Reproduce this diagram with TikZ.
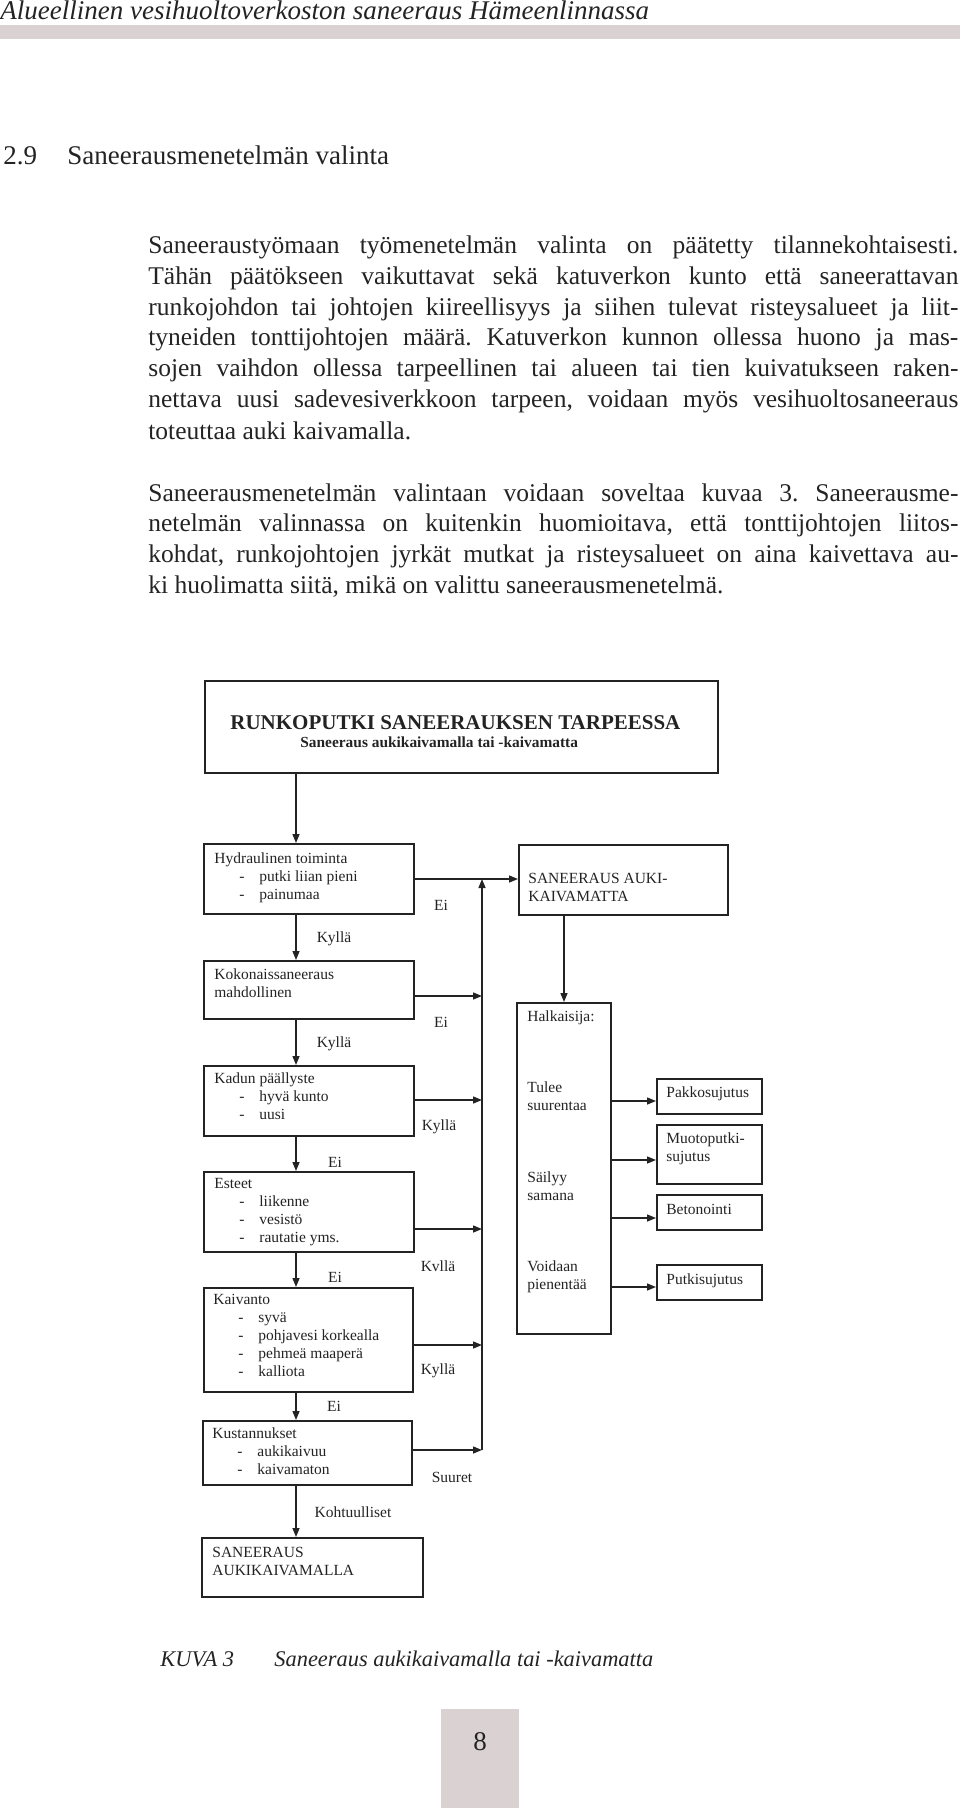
\documentclass[tikz,border=0pt]{standalone}
\usepackage{fontspec}
\setmainfont{Liberation Serif}
\usepackage{xcolor}
\usepackage{tikz}
\usetikzlibrary{arrows.meta}
\definecolor{pagegray}{RGB}{218,210,210}
\definecolor{ink}{RGB}{35,35,35}
\newcommand{\pxu}{0.5pt}
\newcommand{\dfont}{\fontsize{7.75pt}{9pt}\selectfont}
\newcommand{\itm}[1]{\hspace*{12.5pt}\makebox[10pt][l]{-}#1}
\newcommand{\jline}[1]{\makebox[405pt][s]{#1}}
\frenchspacing

\begin{document}
\begin{tikzpicture}[x=0.5pt,y=-0.5pt,
        box/.style={draw=ink,line width=0.8pt,inner sep=0pt,anchor=north west},
        txt/.style={anchor=base west,inner sep=0pt,align=left,font=\dfont,text=ink},
        lbl/.style={inner sep=0pt,font=\dfont,text=ink},
        body/.style={anchor=base west,inner sep=0pt,font=\fontsize{12.75pt}{15.4pt}\selectfont,text=ink},
        arr/.style={draw=ink,line width=0.7pt,-{Triangle[length=4.5pt,width=3.5pt]}}]
            \useasboundingbox (0,0) rectangle (960,1808);
            \fill[pagegray] (0,25) rectangle (960,39);
            \node[anchor=base west,inner sep=0pt,font=\fontsize{13.5pt}{15pt}\selectfont\itshape,text=ink] (hdr) at (0,20) {Alueellinen vesihuoltoverkoston saneeraus Hämeenlinnassa};
            \node[anchor=base west,inner sep=0pt,font=\fontsize{13.5pt}{15pt}\selectfont,text=ink] (secno) at (3,165) {2.9};
            \node[anchor=base west,inner sep=0pt,font=\fontsize{13.5pt}{15pt}\selectfont,text=ink] (sectitle) at (67,165) {Saneerausmenetelmän valinta};
            \node[body] (p1) at (148,254) {\jline{Saneeraustyömaan työmenetelmän valinta on päätetty tilannekohtaisesti.}};
            \node[body] (p2) at (148,285) {\jline{Tähän päätökseen vaikuttavat sekä katuverkon kunto että saneerattavan}};
            \node[body] (p3) at (148,316) {\jline{runkojohdon tai johtojen kiireellisyys ja siihen tulevat risteysalueet ja liit-}};
            \node[body] (p4) at (148,346) {\jline{tyneiden tonttijohtojen määrä. Katuverkon kunnon ollessa huono ja mas-}};
            \node[body] (p5) at (148,377) {\jline{sojen vaihdon ollessa tarpeellinen tai alueen tai tien kuivatukseen raken-}};
            \node[body] (p6) at (148,408) {\jline{nettava uusi sadevesiverkkoon tarpeen, voidaan myös vesihuoltosaneeraus}};
            \node[body] (p7) at (148,439) {toteuttaa auki kaivamalla.};
            \node[body] (p8) at (148,501) {\jline{Saneerausmenetelmän valintaan voidaan soveltaa kuvaa 3. Saneerausme-}};
            \node[body] (p9) at (148,531) {\jline{netelmän valinnassa on kuitenkin huomioitava, että tonttijohtojen liitos-}};
            \node[body] (p10) at (148,562) {\jline{kohdat, runkojohtojen jyrkät mutkat ja risteysalueet on aina kaivettava au-}};
            \node[body] (p11) at (148,593) {ki huolimatta siitä, mikä on valittu saneerausmenetelmä.};
            \node[box,minimum width=513*\pxu,minimum height=92*\pxu] (top) at (204,680) {};
            \node[anchor=base west,inner sep=0pt,font=\fontsize{10.5pt}{12pt}\selectfont\bfseries,text=ink] (toptitle) at (230,729) {RUNKOPUTKI SANEERAUKSEN TARPEESSA};
            \node[anchor=base west,inner sep=0pt,font=\fontsize{7.7pt}{9pt}\selectfont\bfseries,text=ink] (topsub) at (300,747) {Saneeraus aukikaivamalla tai -kaivamatta};
            \node[box,minimum width=210*\pxu,minimum height=70*\pxu] (hyd) at (203,843) {};
            \node[box,minimum width=210*\pxu,minimum height=58*\pxu] (kok) at (203,960) {};
            \node[box,minimum width=210*\pxu,minimum height=70*\pxu] (kad) at (203,1065) {};
            \node[box,minimum width=210*\pxu,minimum height=80*\pxu] (est) at (203,1171) {};
            \node[box,minimum width=209*\pxu,minimum height=104*\pxu] (kai) at (203,1287) {};
            \node[box,minimum width=209*\pxu,minimum height=64*\pxu] (kus) at (202,1420) {};
            \node[box,minimum width=221*\pxu,minimum height=59*\pxu] (sau) at (201,1537) {};
            \node[box,minimum width=209*\pxu,minimum height=70*\pxu] (skm) at (518,844) {};
            \node[box,minimum width=94*\pxu,minimum height=331*\pxu] (hal) at (516,1002) {};
            \node[box,minimum width=105*\pxu,minimum height=35*\pxu] (pak) at (656,1078) {};
            \node[box,minimum width=105*\pxu,minimum height=59*\pxu] (muo) at (656,1124) {};
            \node[box,minimum width=105*\pxu,minimum height=35*\pxu] (bet) at (656,1194) {};
            \node[box,minimum width=105*\pxu,minimum height=35*\pxu] (put) at (656,1264) {};
            \node[txt] (hydtxt) at (214,899) {Hydraulinen toiminta\\\itm{putki liian pieni}\\\itm{painumaa}};
            \node[txt] (koktxt) at (214,997) {Kokonaissaneeraus\\mahdollinen};
            \node[txt] (kadtxt) at (214,1119) {Kadun päällyste\\\itm{hyvä kunto}\\\itm{uusi}};
            \node[txt] (esttxt) at (214,1242) {Esteet\\\itm{liikenne}\\\itm{vesistö}\\\itm{rautatie yms.}};
            \node[txt] (kaitxt) at (213,1376) {Kaivanto\\\itm{syvä}\\\itm{pohjavesi korkealla}\\\itm{pehmeä maaperä}\\\itm{kalliota}};
            \node[txt] (kustxt) at (212,1474) {Kustannukset\\\itm{aukikaivuu}\\\itm{kaivamaton}};
            \node[txt] (sautxt) at (212,1575) {SANEERAUS\\AUKIKAIVAMALLA};
            \node[txt] (skmtxt) at (528,901) {SANEERAUS AUKI-\\KAIVAMATTA};
            \node[txt] (haltxt) at (527,1021) {Halkaisija:};
            \node[txt] (haltxta) at (527,1110) {Tulee\\suurentaa};
            \node[txt] (haltxtb) at (527,1200) {Säilyy\\samana};
            \node[txt] (haltxtc) at (527,1289) {Voidaan\\pienentää};
            \node[txt] (paktxt) at (666,1097) {Pakkosujutus};
            \node[txt] (muotxt) at (666,1161) {Muotoputki-\\sujutus};
            \node[txt] (bettxt) at (666,1214) {Betonointi};
            \node[txt] (puttxt) at (666,1284) {Putkisujutus};
            \coordinate (trunk) at (296,0);
            \coordinate (drop) at (564,0);
            \coordinate (bus) at (482,879);
            \coordinate (busend) at (482,1450);
            \foreach \a/\b in {top/hyd,hyd/kok,kok/kad,kad/est,est/kai,kai/kus,kus/sau}
                \draw[arr] (\a.south -| trunk) -- (\b.north -| trunk);
            \foreach \n/\yy in {kok/996,kad/1100,est/1229,kai/1345,kus/1450}
                \draw[arr] (\n.east |- 0,\yy) -- (bus |- 0,\yy);
            \draw[arr] (busend) -- (bus);
            \draw[arr] (hyd.east |- bus) -- (skm.west |- bus);
            \draw[arr] (skm.south -| drop) -- (hal.north -| drop);
            \foreach \n/\yy in {pak/1101,muo/1160,bet/1218,put/1287}
                \draw[arr] (hal.east |- 0,\yy) -- (\n.west |- 0,\yy);
            \node[lbl] (lk1) at (334,939) {Kyllä};
            \node[lbl] (lk2) at (334,1044) {Kyllä};
            \node[lbl] (le3) at (335,1162) {Ei};
            \node[lbl] (le4) at (335,1277) {Ei};
            \node[lbl] (le5) at (334,1406) {Ei};
            \node[lbl] (lkoh) at (353,1512) {Kohtuulliset};
            \node[lbl] (le1) at (441,905) {Ei};
            \node[lbl] (le2) at (441,1022) {Ei};
            \node[lbl] (lk3) at (439,1127) {Kyllä};
            \node[lbl] (lk4) at (438,1266) {Kvllä};
            \node[lbl] (lk5) at (438,1371) {Kyllä};
            \node[lbl] (lsuu) at (452,1477) {Suuret};
            \node[anchor=base west,inner sep=0pt,font=\fontsize{11.2pt}{13pt}\selectfont\itshape,text=ink] (capno) at (160,1666) {KUVA 3};
            \node[anchor=base west,inner sep=0pt,font=\fontsize{11.2pt}{13pt}\selectfont\itshape,text=ink] (captxt) at (274,1666) {Saneeraus aukikaivamalla tai -kaivamatta};
            \fill[pagegray] (441,1709) rectangle (519,1808);
            \node[anchor=base,inner sep=0pt,font=\fontsize{13.5pt}{15pt}\selectfont,text=ink] (pgno) at (480,1750) {8};
        \end{tikzpicture}
\end{document}
